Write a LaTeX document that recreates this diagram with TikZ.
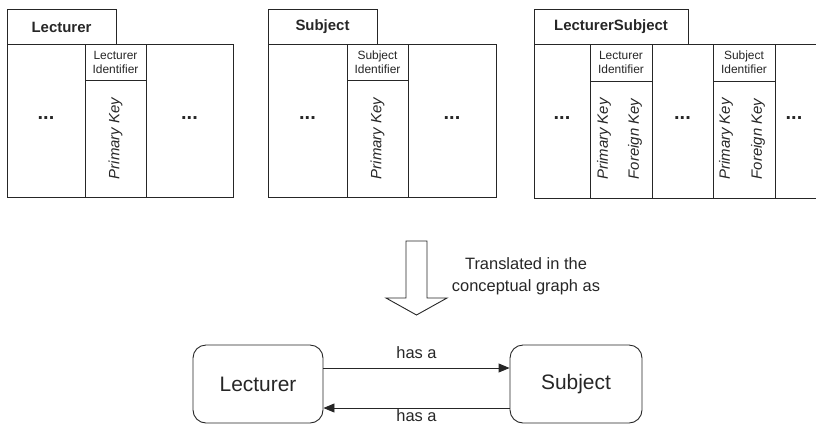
\documentclass[tikz,border=0pt]{standalone}
\usepackage{fontspec}
\setmainfont{Liberation Sans}
\usetikzlibrary{arrows.meta}
\begin{document}
\begin{tikzpicture}[x=1bp,y=-1bp,line width=0.9bp,color=black!85,
  tabtitle/.style={font=\fontsize{15}{18}\selectfont\bfseries},
  idtext/.style={font=\fontsize{12}{14}\selectfont,align=center,inner sep=0pt},
  keytext/.style={font=\fontsize{15}{18}\selectfont\itshape,rotate=90,inner sep=0pt},
  dotstext/.style={font=\fontsize{20}{22}\selectfont\bfseries},
  cgbox/.style={draw,rounded corners=13bp,minimum height=78bp,font=\fontsize{21}{24}\selectfont},
  lbl/.style={font=\fontsize{16.5}{22}\selectfont,align=center},
  haslbl/.style={font=\fontsize{16.5}{20}\selectfont},
  arr/.style={-{Triangle[length=11bp,width=9bp]}}]
\useasboundingbox (0,0) rectangle (816,424);
% ---- Lecturer table
\draw (7,9) rectangle (116,44);
\node[tabtitle] (t1) at (61.5,27) {Lecturer};
\draw (7,44) rectangle (233,197);
\draw (85,44) -- (85,197) (146,44) -- (146,197) (85,80) -- (146,80);
\node[idtext] (i1) at (115.5,62) {Lecturer\\Identifier};
\node[keytext] (k1) at (115.5,138.5) {Primary Key};
\node[dotstext] (d1a) at (46,118) {...};
\node[dotstext] (d1b) at (189.5,118) {...};
% ---- Subject table
\draw (268,9) rectangle (377,44);
\node[tabtitle] (t2) at (322.5,27) {Subject};
\draw (268,44) rectangle (496,197);
\draw (347,44) -- (347,197) (408,44) -- (408,197) (347,80) -- (408,80);
\node[idtext] (i2) at (377.5,62) {Subject\\Identifier};
\node[keytext] (k2) at (377.5,138.5) {Primary Key};
\node[dotstext] (d2a) at (307.5,118) {...};
\node[dotstext] (d2b) at (452,118) {...};
% ---- LecturerSubject table
\draw (534,9) rectangle (688,44);
\node[tabtitle] (t3) at (611,27) {LecturerSubject};
\draw (820,44) -- (534,44) -- (534,198) -- (820,198);
\draw (590,44) -- (590,198) (652,44) -- (652,198) (590,81) -- (652,81);
\draw (713,44) -- (713,198) (775,44) -- (775,198) (713,81) -- (775,81);
\node[idtext] (i3) at (621,62.5) {Lecturer\\Identifier};
\node[idtext] (i4) at (744,62.5) {Subject\\Identifier};
\node[keytext] (k3) at (604,139) {Primary Key};
\node[keytext] (f3) at (635,139) {Foreign Key};
\node[keytext] (k4) at (726,139) {Primary Key};
\node[keytext] (f4) at (758,139) {Foreign Key};
\node[dotstext] (d3a) at (562,118) {...};
\node[dotstext] (d3b) at (682.5,118) {...};
\node[dotstext] (d3c) at (794,118) {...};
% ---- hollow arrow
\draw (406,241) -- (427,241) -- (427,298) -- (447,298) -- (416.5,315) -- (386,298) -- (406,298) -- cycle;
\node[lbl] (tr) at (526,276) {Translated in the\\conceptual graph as};
% ---- conceptual graph
\node[cgbox,minimum width=130bp] (L) at (258,384) {Lecturer};
\node[cgbox,minimum width=132bp] (S) at (576,384) {Subject};
\draw[arr] ([yshift=16bp]L.east) -- ([yshift=16bp]S.west) node[midway,above=6bp,haslbl] (h1) {has a};
\draw[arr] ([yshift=-24bp]S.west) -- ([yshift=-24bp]L.east) node[midway,below=0bp,inner sep=1.5bp,haslbl] (h2) {has a};
\end{tikzpicture}
\end{document}
